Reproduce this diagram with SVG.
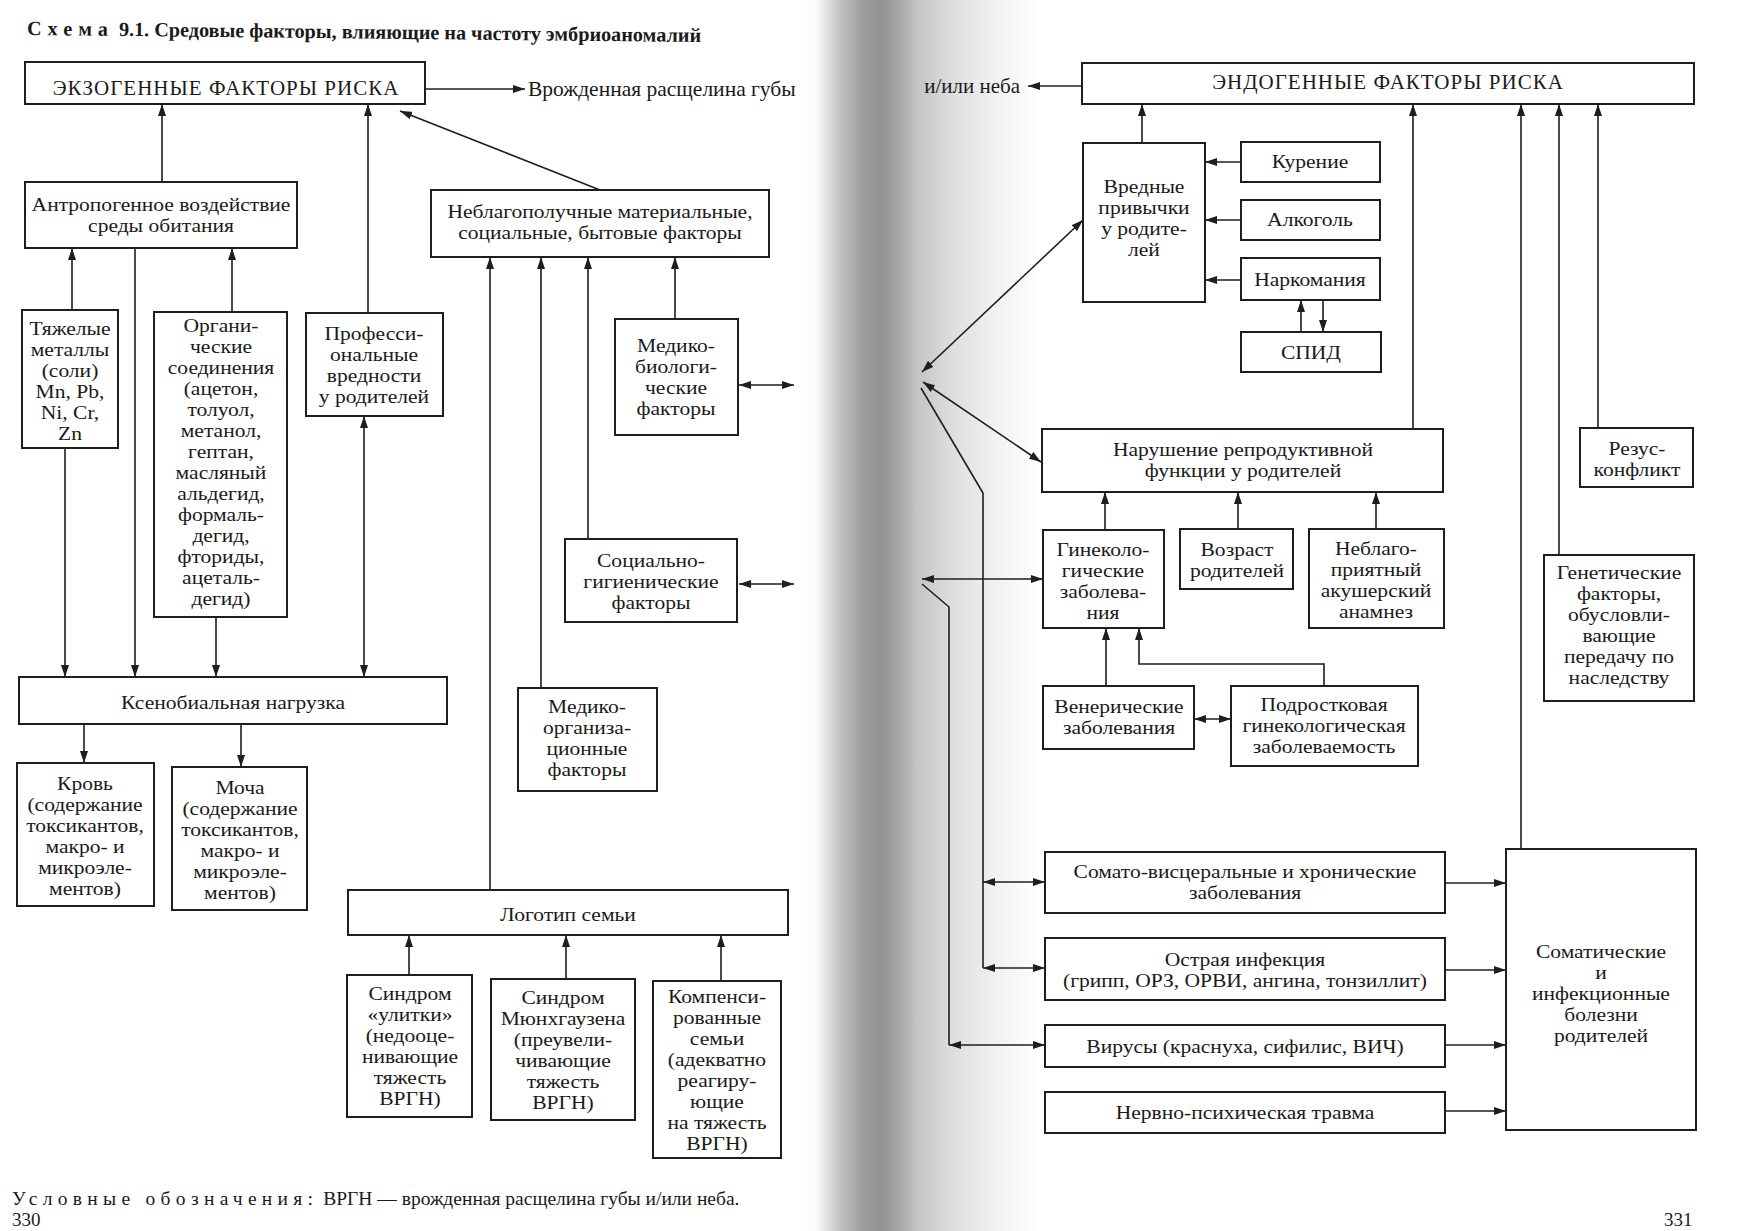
<svg xmlns="http://www.w3.org/2000/svg" width="1739" height="1231" viewBox="0 0 1739 1231">
<defs>
<linearGradient id="gut" gradientUnits="userSpaceOnUse" x1="800" y1="0" x2="1040" y2="0">
<stop offset="0" stop-color="#ffffff"/>
<stop offset="0.07" stop-color="#fafafa"/>
<stop offset="0.17" stop-color="#c0c0c0"/>
<stop offset="0.26" stop-color="#9e9e9e"/>
<stop offset="0.34" stop-color="#939393"/>
<stop offset="0.42" stop-color="#a8a8a8"/>
<stop offset="0.48" stop-color="#c2c2c2"/>
<stop offset="0.62" stop-color="#dcdcdc"/>
<stop offset="0.8" stop-color="#f0f0f0"/>
<stop offset="1" stop-color="#ffffff"/>
</linearGradient>
<marker id="ah" viewBox="0 0 12 8" refX="12" refY="4" markerWidth="12" markerHeight="8" markerUnits="userSpaceOnUse" orient="auto-start-reverse">
<path d="M0,0 L12,4 L0,8 z" fill="#1e1e1e"/>
</marker>
</defs>
<style>
.bx{fill:#ffffff;stroke:#1e1e1e;stroke-width:2}
.t{font-family:"Liberation Serif","DejaVu Serif",serif;font-size:18.9px;fill:#1a1a1a;text-anchor:middle;transform-box:fill-box;transform-origin:center;transform:scaleX(1.14)}
.h{font-family:"Liberation Serif","DejaVu Serif",serif;font-size:21px;fill:#1a1a1a;text-anchor:middle;letter-spacing:1px}
.tl{font-family:"Liberation Serif","DejaVu Serif",serif;font-size:21px;fill:#1a1a1a}
.c{fill:none;stroke:#1e1e1e;stroke-width:1.6}
.a{marker-end:url(#ah)}
.b{marker-start:url(#ah);marker-end:url(#ah)}
</style>
<rect x="0" y="0" width="1739" height="1231" fill="#ffffff"/>
<rect x="790" y="0" width="260" height="1231" fill="url(#gut)"/>

<text x="27" y="35" transform="rotate(0.6 27 35)" style="font-family:'Liberation Serif',serif;font-size:20.2px;font-weight:bold;fill:#1a1a1a"><tspan letter-spacing="6">Схема</tspan> 9.1. Средовые факторы, влияющие на частоту эмбриоаномалий</text>

<g id="connectors">
<path class="c a" d="M425,89 H525"/>
<path class="c a" d="M162,182 V104"/>
<path class="c a" d="M600,190 L400,111"/>
<path class="c a" d="M368,313 V104"/>
<path class="c a" d="M72,310 V248"/>
<path class="c a" d="M232,312 V248"/>
<path class="c a" d="M135,248 V677"/>
<path class="c a" d="M65,448 V677"/>
<path class="c a" d="M216,617 V677"/>
<path class="c b" d="M364,416 V677"/>
<path class="c a" d="M675,319 V257"/>
<path class="c a" d="M588,539 V257"/>
<path class="c a" d="M541,688 V257"/>
<path class="c a" d="M490,890 V257"/>
<path class="c b" d="M739,385 H794"/>
<path class="c b" d="M739,584 H794"/>
<path class="c a" d="M84,724 V763"/>
<path class="c a" d="M241,724 V767"/>
<path class="c a" d="M409,975 V935"/>
<path class="c a" d="M566,979 V935"/>
<path class="c a" d="M721,981 V935"/>

<path class="c a" d="M1082,86 H1028"/>
<path class="c a" d="M1142,143 V104"/>
<path class="c a" d="M1241,162 H1205"/>
<path class="c a" d="M1241,220 H1205"/>
<path class="c a" d="M1241,280 H1205"/>
<path class="c a" d="M1301,332 V300"/>
<path class="c a" d="M1323,300 V332"/>
<path class="c b" d="M1083,220 L922,372"/>
<path class="c b" d="M1041,462 L923,382"/>
<path class="c" d="M921,388 L983,493 V968"/>
<path class="c b" d="M983,882 H1045"/>
<path class="c b" d="M983,968 H1045"/>
<path class="c b" d="M922,579 H1043"/>
<path class="c" d="M922,584 L949,607 V1045"/>
<path class="c b" d="M949,1045 H1045"/>
<path class="c a" d="M1413,429 V104"/>
<path class="c a" d="M1105,530 V492"/>
<path class="c a" d="M1238,529 V492"/>
<path class="c a" d="M1376,529 V492"/>
<path class="c a" d="M1106,686 V628"/>
<path class="c a" d="M1324,686 V664 H1139 V628"/>
<path class="c b" d="M1194,719 H1231"/>
<path class="c a" d="M1598,428 V104"/>
<path class="c a" d="M1559,555 V104"/>
<path class="c a" d="M1521,849 V104"/>
<path class="c a" d="M1445,883 H1506"/>
<path class="c a" d="M1445,970 H1506"/>
<path class="c a" d="M1445,1045 H1506"/>
<path class="c a" d="M1445,1111 H1506"/>
</g>

<g id="exo"><rect class="bx" x="25" y="62" width="400" height="42"/><text class="h" x="226" y="95">ЭКЗОГЕННЫЕ ФАКТОРЫ РИСКА</text></g>
<g id="cleft"><text class="tl" x="528" y="96" style="font-size:21.5px">Врожденная расщелина губы</text></g>
<g id="anthro"><rect class="bx" x="25" y="182" width="272" height="66"/><text class="t"><tspan x="161" y="211">Антропогенное воздействие</tspan><tspan x="161" y="232">среды обитания</tspan></text></g>
<g id="social"><rect class="bx" x="431" y="190" width="338" height="67"/><text class="t"><tspan x="600" y="218">Неблагополучные материальные,</tspan><tspan x="600" y="239">социальные, бытовые факторы</tspan></text></g>
<g id="metals"><rect class="bx" x="22" y="310" width="96" height="138"/><text class="t"><tspan x="70" y="335">Тяжелые</tspan><tspan x="70" y="356">металлы</tspan><tspan x="70" y="377">(соли)</tspan><tspan x="70" y="398">Mn, Pb,</tspan><tspan x="70" y="419">Ni, Cr,</tspan><tspan x="70" y="440">Zn</tspan></text></g>
<g id="organic"><rect class="bx" x="154" y="312" width="133" height="305"/><text class="t"><tspan x="221" y="332">Органи-</tspan><tspan x="221" y="353">ческие</tspan><tspan x="221" y="374">соединения</tspan><tspan x="221" y="395">(ацетон,</tspan><tspan x="221" y="416">толуол,</tspan><tspan x="221" y="437">метанол,</tspan><tspan x="221" y="458">гептан,</tspan><tspan x="221" y="479">масляный</tspan><tspan x="221" y="500">альдегид,</tspan><tspan x="221" y="521">формаль-</tspan><tspan x="221" y="542">дегид,</tspan><tspan x="221" y="563">фториды,</tspan><tspan x="221" y="584">ацеталь-</tspan><tspan x="221" y="605">дегид)</tspan></text></g>
<g id="prof"><rect class="bx" x="306" y="313" width="137" height="103"/><text class="t"><tspan x="374" y="340">Професси-</tspan><tspan x="374" y="361">ональные</tspan><tspan x="374" y="382">вредности</tspan><tspan x="374" y="403">у родителей</tspan></text></g>
<g id="medbio"><rect class="bx" x="615" y="319" width="123" height="116"/><text class="t"><tspan x="676" y="352">Медико-</tspan><tspan x="676" y="373">биологи-</tspan><tspan x="676" y="394">ческие</tspan><tspan x="676" y="415">факторы</tspan></text></g>
<g id="sochyg"><rect class="bx" x="565" y="539" width="172" height="83"/><text class="t"><tspan x="651" y="567">Социально-</tspan><tspan x="651" y="588">гигиенические</tspan><tspan x="651" y="609">факторы</tspan></text></g>
<g id="medorg"><rect class="bx" x="518" y="688" width="139" height="103"/><text class="t"><tspan x="587" y="713">Медико-</tspan><tspan x="587" y="734">организа-</tspan><tspan x="587" y="755">ционные</tspan><tspan x="587" y="776">факторы</tspan></text></g>
<g id="xeno"><rect class="bx" x="19" y="677" width="428" height="47"/><text class="t" x="233" y="709">Ксенобиальная нагрузка</text></g>
<g id="blood"><rect class="bx" x="17" y="763" width="137" height="143"/><text class="t"><tspan x="85" y="790">Кровь</tspan><tspan x="85" y="811">(содержание</tspan><tspan x="85" y="832">токсикантов,</tspan><tspan x="85" y="853">макро- и</tspan><tspan x="85" y="874">микроэле-</tspan><tspan x="85" y="895">ментов)</tspan></text></g>
<g id="urine"><rect class="bx" x="172" y="767" width="135" height="143"/><text class="t"><tspan x="240" y="794">Моча</tspan><tspan x="240" y="815">(содержание</tspan><tspan x="240" y="836">токсикантов,</tspan><tspan x="240" y="857">макро- и</tspan><tspan x="240" y="878">микроэле-</tspan><tspan x="240" y="899">ментов)</tspan></text></g>
<g id="logotip"><rect class="bx" x="348" y="890" width="440" height="45"/><text class="t" x="568" y="921">Логотип семьи</text></g>
<g id="snail"><rect class="bx" x="347" y="975" width="125" height="142"/><text class="t"><tspan x="410" y="1000">Синдром</tspan><tspan x="410" y="1021">«улитки»</tspan><tspan x="410" y="1042">(недооце-</tspan><tspan x="410" y="1063">нивающие</tspan><tspan x="410" y="1084">тяжесть</tspan><tspan x="410" y="1105">ВРГН)</tspan></text></g>
<g id="munch"><rect class="bx" x="491" y="979" width="144" height="141"/><text class="t"><tspan x="563" y="1004">Синдром</tspan><tspan x="563" y="1025">Мюнхгаузена</tspan><tspan x="563" y="1046">(преувели-</tspan><tspan x="563" y="1067">чивающие</tspan><tspan x="563" y="1088">тяжесть</tspan><tspan x="563" y="1109">ВРГН)</tspan></text></g>
<g id="comp"><rect class="bx" x="653" y="981" width="128" height="177"/><text class="t"><tspan x="717" y="1003">Компенси-</tspan><tspan x="717" y="1024">рованные</tspan><tspan x="717" y="1045">семьи</tspan><tspan x="717" y="1066">(адекватно</tspan><tspan x="717" y="1087">реагиру-</tspan><tspan x="717" y="1108">ющие</tspan><tspan x="717" y="1129">на тяжесть</tspan><tspan x="717" y="1150">ВРГН)</tspan></text></g>
<g id="legend"><text class="tl" x="12" y="1205" style="font-size:19.5px"><tspan letter-spacing="5.3">Условные обозначения:</tspan> ВРГН — врожденная расщелина губы и/или неба.</text></g>
<g id="p330"><text class="tl" x="12" y="1226" style="font-size:19px">330</text></g>

<g id="neba"><text class="tl" x="1020" y="93" style="text-anchor:end">и/или неба</text></g>
<g id="endo"><rect class="bx" x="1082" y="63" width="612" height="41"/><text class="h" x="1388" y="89">ЭНДОГЕННЫЕ ФАКТОРЫ РИСКА</text></g>
<g id="habits"><rect class="bx" x="1083" y="143" width="122" height="159"/><text class="t"><tspan x="1144" y="193">Вредные</tspan><tspan x="1144" y="214">привычки</tspan><tspan x="1144" y="235">у родите-</tspan><tspan x="1144" y="256">лей</tspan></text></g>
<g id="smoke"><rect class="bx" x="1241" y="142" width="139" height="40"/><text class="t" x="1310" y="168">Курение</text></g>
<g id="alco"><rect class="bx" x="1241" y="200" width="139" height="40"/><text class="t" x="1310" y="226">Алкоголь</text></g>
<g id="drugs"><rect class="bx" x="1241" y="258" width="139" height="42"/><text class="t" x="1310" y="286">Наркомания</text></g>
<g id="aids"><rect class="bx" x="1241" y="332" width="140" height="40"/><text class="t" x="1311" y="359">СПИД</text></g>
<g id="repro"><rect class="bx" x="1042" y="429" width="401" height="63"/><text class="t"><tspan x="1243" y="456">Нарушение репродуктивной</tspan><tspan x="1243" y="477">функции у родителей</tspan></text></g>
<g id="gyn"><rect class="bx" x="1043" y="530" width="121" height="98"/><text class="t"><tspan x="1103" y="556">Гинеколо-</tspan><tspan x="1103" y="577">гические</tspan><tspan x="1103" y="598">заболева-</tspan><tspan x="1103" y="619">ния</tspan></text></g>
<g id="age"><rect class="bx" x="1180" y="529" width="113" height="60"/><text class="t"><tspan x="1237" y="556">Возраст</tspan><tspan x="1237" y="577">родителей</tspan></text></g>
<g id="obst"><rect class="bx" x="1309" y="529" width="135" height="99"/><text class="t"><tspan x="1376" y="555">Неблаго-</tspan><tspan x="1376" y="576">приятный</tspan><tspan x="1376" y="597">акушерский</tspan><tspan x="1376" y="618">анамнез</tspan></text></g>
<g id="vener"><rect class="bx" x="1043" y="686" width="151" height="63"/><text class="t"><tspan x="1119" y="713">Венерические</tspan><tspan x="1119" y="734">заболевания</tspan></text></g>
<g id="teen"><rect class="bx" x="1231" y="686" width="187" height="80"/><text class="t"><tspan x="1324" y="711">Подростковая</tspan><tspan x="1324" y="732">гинекологическая</tspan><tspan x="1324" y="753">заболеваемость</tspan></text></g>
<g id="rhesus"><rect class="bx" x="1580" y="428" width="113" height="59"/><text class="t"><tspan x="1637" y="455">Резус-</tspan><tspan x="1637" y="476">конфликт</tspan></text></g>
<g id="genetic"><rect class="bx" x="1544" y="555" width="150" height="146"/><text class="t"><tspan x="1619" y="579">Генетические</tspan><tspan x="1619" y="600">факторы,</tspan><tspan x="1619" y="621">обусловли-</tspan><tspan x="1619" y="642">вающие</tspan><tspan x="1619" y="663">передачу по</tspan><tspan x="1619" y="684">наследству</tspan></text></g>
<g id="somvisc"><rect class="bx" x="1045" y="852" width="400" height="61"/><text class="t"><tspan x="1245" y="878">Сомато-висцеральные и хронические</tspan><tspan x="1245" y="899">заболевания</tspan></text></g>
<g id="acute"><rect class="bx" x="1045" y="938" width="400" height="62"/><text class="t"><tspan x="1245" y="966">Острая инфекция</tspan><tspan x="1245" y="987">(грипп, ОРЗ, ОРВИ, ангина, тонзиллит)</tspan></text></g>
<g id="virus"><rect class="bx" x="1045" y="1025" width="400" height="42"/><text class="t" x="1245" y="1053">Вирусы (краснуха, сифилис, ВИЧ)</text></g>
<g id="trauma"><rect class="bx" x="1045" y="1092" width="400" height="41"/><text class="t" x="1245" y="1119">Нервно-психическая травма</text></g>
<g id="somatic"><rect class="bx" x="1506" y="849" width="190" height="281"/><text class="t"><tspan x="1601" y="958">Соматические</tspan><tspan x="1601" y="979">и</tspan><tspan x="1601" y="1000">инфекционные</tspan><tspan x="1601" y="1021">болезни</tspan><tspan x="1601" y="1042">родителей</tspan></text></g>
<g id="p331"><text class="tl" x="1664" y="1226" style="font-size:19px">331</text></g>
</svg>
